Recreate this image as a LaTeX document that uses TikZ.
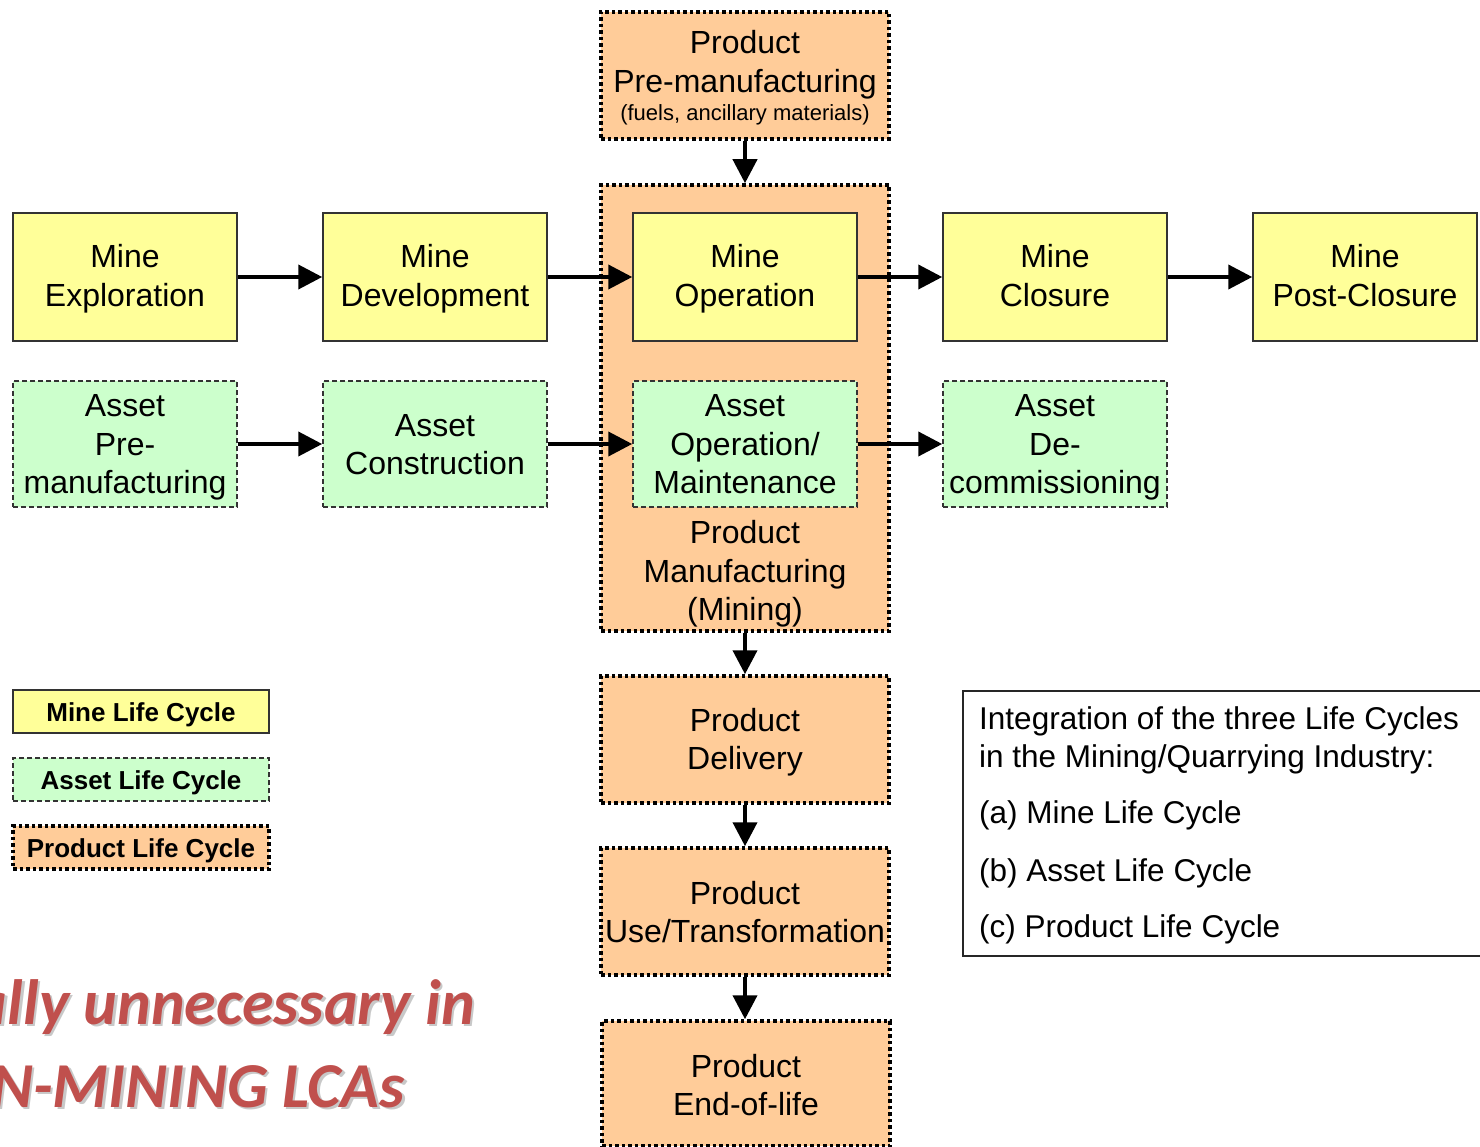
\documentclass[tikz,border=0pt]{standalone}
\usepackage{fontspec}
\setmainfont{Liberation Sans}
\newfontfamily\carlito{Carlito}
\usetikzlibrary{arrows.meta}
\definecolor{mineY}{HTML}{FFFF99}
\definecolor{assetG}{HTML}{CCFFCC}
\definecolor{prodO}{HTML}{FFCC99}
\definecolor{redT}{HTML}{C0504D}
\definecolor{shadowG}{HTML}{C8C8C8}
\begin{document}
\begin{tikzpicture}[x=1pt,y=-1pt,
  boxfont/.style={font=\fontsize{32}{38.5}\selectfont},
  theight/.style={text height=#1, text depth=5pt},
  minebox/.style={draw=black!80, line width=1.5pt, fill=mineY, minimum width=224pt, minimum height=128pt, align=center, inner sep=0pt, boxfont},
  assetbox/.style={draw=black!80, line width=1.5pt, dash pattern=on 5pt off 3pt, fill=assetG, minimum width=224pt, minimum height=126pt, align=center, inner sep=0pt, boxfont},
  prodbox/.style={draw=black, line width=3.5pt, dash pattern=on 3.5pt off 3pt, fill=prodO, minimum width=288pt, minimum height=127pt, align=center, inner sep=0pt, boxfont},
  legfont/.style={font=\fontsize{26}{30}\selectfont\bfseries, text height=24.6pt, text depth=5pt},
  arr/.style={line width=4pt, -{Triangle[length=24pt,width=24pt]}},
  infotext/.style={anchor=base west, inner sep=0pt, font=\fontsize{31.5}{38}\selectfont},
  redtext/.style={anchor=base east, inner sep=0pt, font=\carlito\bfseries\itshape\fontsize{64}{80}\selectfont}
]
\useasboundingbox (0,0) rectangle (1480,1147);
\clip (0,0) rectangle (1480,1147);

% big product manufacturing box
\node[prodbox, minimum height=446pt] (pman) at (745,408) {};
\node[inner sep=0pt, align=center, boxfont, theight=100pt] (pmtext) at (745,573) {Product\\Manufacturing\\(Mining)};

% mine life cycle
\node[minebox, theight=64pt] (mexp) at (125,277) {Mine\\Exploration};
\node[minebox, theight=64pt] (mdev) at (435,277) {Mine\\Development};
\node[minebox, theight=64pt] (mop) at (745,277) {Mine\\Operation};
\node[minebox, theight=64pt] (mclo) at (1055,277) {Mine\\Closure};
\node[minebox, theight=64pt] (mpost) at (1365,277) {Mine\\Post-Closure};

% asset life cycle
\node[assetbox, theight=104pt] (apre) at (125,444) {Asset\\Pre-\\manufacturing};
\node[assetbox, theight=66pt] (acon) at (435,444) {Asset\\Construction};
\node[assetbox, theight=104pt] (aop) at (745,444) {Asset\\Operation/\\Maintenance};
\node[assetbox, theight=104pt] (adec) at (1055,444) {Asset\\De-\\commissioning};

% product life cycle
\node[prodbox, theight=96pt] (ppre) at (745,75.5) {Product\\Pre-manufacturing\\[-10pt]{\fontsize{22}{26}\selectfont (fuels, ancillary materials)}};
\node[prodbox, theight=65pt] (pdel) at (745,739.5) {Product\\Delivery};
\node[prodbox, theight=67pt] (puse) at (745,911.5) {Product\\Use/Transformation};
\node[prodbox, minimum height=125pt, theight=69pt] (peol) at (746,1083.5) {Product\\End-of-life};

% arrows
\draw[arr] (mexp) -- (mdev);
\draw[arr] (mdev) -- (mop);
\draw[arr] (mop) -- (mclo);
\draw[arr] (mclo) -- (mpost);
\draw[arr] (apre) -- (acon);
\draw[arr] (acon) -- (aop);
\draw[arr] (aop) -- (adec);
\draw[arr] (ppre) -- (pman);
\draw[arr] (pman) -- (pdel);
\draw[arr] (pdel) -- (puse);
\draw[arr] (puse.south) -- (puse.south |- peol.north);

% legend
\node[minebox, minimum width=256pt, minimum height=43pt, legfont] (lmine) at (141,711.5) {Mine Life Cycle};
\node[assetbox, minimum width=256pt, minimum height=43pt, legfont] (lasset) at (141,779.5) {Asset Life Cycle};
\node[prodbox, minimum width=256pt, minimum height=43pt, legfont] (lprod) at (141,847.5) {Product Life Cycle};

% info box
\node[draw=black!85, line width=2pt, minimum width=540pt, minimum height=265pt, anchor=north west, inner sep=0pt] (tbox) at (962,690) {};
\node[infotext] (t1) at (979,729) {Integration of the three Life Cycles};
\node[infotext] (t2) at (979,767) {in the Mining/Quarrying Industry:};
\node[infotext] (t3) at (979,823) {(a) Mine Life Cycle};
\node[infotext] (t4) at (979,881) {(b) Asset Life Cycle};
\node[infotext] (t5) at (979,937) {(c) Product Life Cycle};

% red note with shadow
\node[redtext, text=shadowG] (r1s) at (477.5,1026.5) {ally unnecessary in};
\node[redtext, text=shadowG] (r2s) at (407.5,1109.5) {N-MINING LCAs};
\node[redtext, text=redT] (r1) at (475,1024) {ally unnecessary in};
\node[redtext, text=redT] (r2) at (405,1107) {N-MINING LCAs};
\end{tikzpicture}
\end{document}
